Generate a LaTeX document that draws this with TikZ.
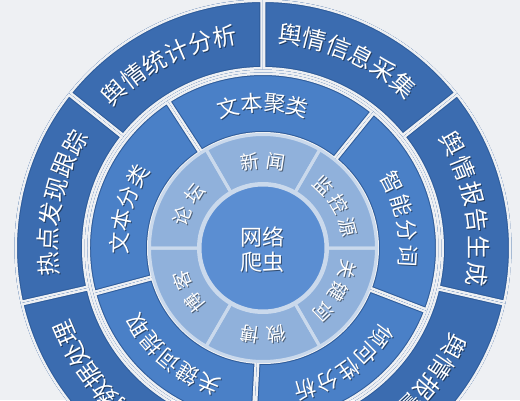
\documentclass[tikz,border=0pt]{standalone}
\usepackage{fontspec}
\newfontfamily\cjk{Noto Sans CJK SC}

\definecolor{bgcol}{HTML}{EEF0F3}
\definecolor{outercol}{HTML}{3B6CB0}
\definecolor{midcol}{HTML}{4A80C7}
\definecolor{lightcol}{HTML}{90B1DB}
\definecolor{corecol}{HTML}{5B8ED2}
\definecolor{edgecol}{HTML}{2D5B9A}
\definecolor{linecol}{HTML}{CAD9EC}

\tikzset{
  outerlabel/.style={text=white, inner sep=0pt, font=\cjk\fontsize{24pt}{24pt}\selectfont},
  midlabel/.style={text=white, inner sep=0pt, font=\cjk\fontsize{22pt}{22pt}\selectfont},
  innerlabel/.style={text=white, inner sep=0pt, font=\cjk\fontsize{19pt}{19pt}\selectfont},
  shade/.style={text=black, opacity=.45},
  rim/.style={draw=edgecol, double=bgcol, double distance=5pt, line width=1pt},
}

% one piece of a ring: style, inner r, outer r, start angle, end angle
\newcommand{\ringsector}[5]{%
  \path[#1] (#4:#2) arc[start angle=#4, end angle=#5, radius=#2]
    -- (#5:#3) arc[start angle=#5, end angle=#4, radius=#3] -- cycle;}

% characters set along a ring: style, radius, mid angle, pitch, count, chars
\newcommand{\ringtext}[6]{%
  \foreach \ch [count=\i] in {#6} {
    \pgfmathsetmacro\ang{#3-(\i-(#5+1)/2)*#4}
    \node[#1, shade, rotate=\ang-90] at ([shift={(1,-1)}]\ang:#2) {\ch};
    \node[#1, rotate=\ang-90] at (\ang:#2) {\ch};
  }}

\begin{document}
\begin{tikzpicture}[x=1pt, y=1pt]
  \useasboundingbox (-263,-152) rectangle (257,248);
  \clip (-263,-152) rectangle (257,248);
  \fill[bgcol] (-263,-152) rectangle (257,248);

  % outer ring, seven pieces
  \foreach \i in {0,...,6} {
    \pgfmathsetmacro\a{90+\i*360/7}
    \pgfmathsetmacro\b{\a+360/7}
    \begin{scope}
      \ringsector{clip}{178.5}{248.5}{\a}{\b}
      \ringsector{fill=outercol, rim}{178.5}{248.5}{\a}{\b}
    \end{scope}
  }

  % middle ring, five pieces
  \foreach \a in {51,123,...,339} {
    \pgfmathsetmacro\b{\a+72}
    \begin{scope}
      \ringsector{clip}{113.5}{175.5}{\a}{\b}
      \ringsector{fill=midcol, rim}{113.5}{175.5}{\a}{\b}
    \end{scope}
  }

  % light ring, six pieces
  \foreach \a in {0,60,...,300} {
    \pgfmathsetmacro\b{\a+60}
    \ringsector{fill=lightcol}{64.5}{113.5}{\a}{\b}
  }
  \foreach \a in {0,60,...,300} {
    \pgfmathsetmacro\b{\a+60}
    \ringsector{draw=linecol, line width=3pt}{64.5}{113.5}{\a}{\b}
  }

  % core
  \node[circle, fill=corecol, draw=linecol, line width=3pt, minimum size=126pt, inner sep=0pt] (core) at (0,0) {};
  \node[shade, align=center, inner sep=0pt, font=\cjk\fontsize{22pt}{25pt}\selectfont] at (1,-3) {网络\\爬虫};
  \node[text=white, align=center, inner sep=0pt, font=\cjk\fontsize{22pt}{25pt}\selectfont] (crawler) at (0,-2) {网络\\爬虫};

  \ringtext{innerlabel}{87}{90}{17}{2}{新,闻}
  \ringtext{innerlabel}{87}{30}{16}{3}{监,控,源}
  \ringtext{innerlabel}{87}{-30}{16}{3}{关,键,词}
  \ringtext{innerlabel}{87}{-90}{17}{2}{微,博}
  \ringtext{innerlabel}{87}{-150}{17}{2}{博,客}
  \ringtext{innerlabel}{87}{150}{17}{2}{论,坛}

  \ringtext{midlabel}{145}{90}{9.2}{4}{文,本,聚,类}
  \ringtext{midlabel}{145}{12}{10}{4}{智,能,分,词}
  \ringtext{midlabel}{148}{-55}{9.2}{5}{倾,向,性,分,析}
  \ringtext{midlabel}{147}{-130}{9.2}{5}{关,键,词,提,取}
  \ringtext{midlabel}{144}{164}{9.3}{4}{文,本,分,类}

  \ringtext{outerlabel}{215}{66}{6.7}{6}{舆,情,信,息,采,集}
  \ringtext{outerlabel}{215}{117}{6.7}{6}{舆,情,统,计,分,析}
  \ringtext{outerlabel}{215}{167.5}{6.7}{6}{热,点,发,现,跟,踪}
  \ringtext{outerlabel}{215}{219.5}{6.5}{6}{舆,情,数,据,处,理}
  \ringtext{outerlabel}{215}{-37}{6.6}{4}{舆,情,报,警}
  \ringtext{outerlabel}{216}{11}{7.2}{6}{舆,情,报,告,生,成}
\end{tikzpicture}
\end{document}
